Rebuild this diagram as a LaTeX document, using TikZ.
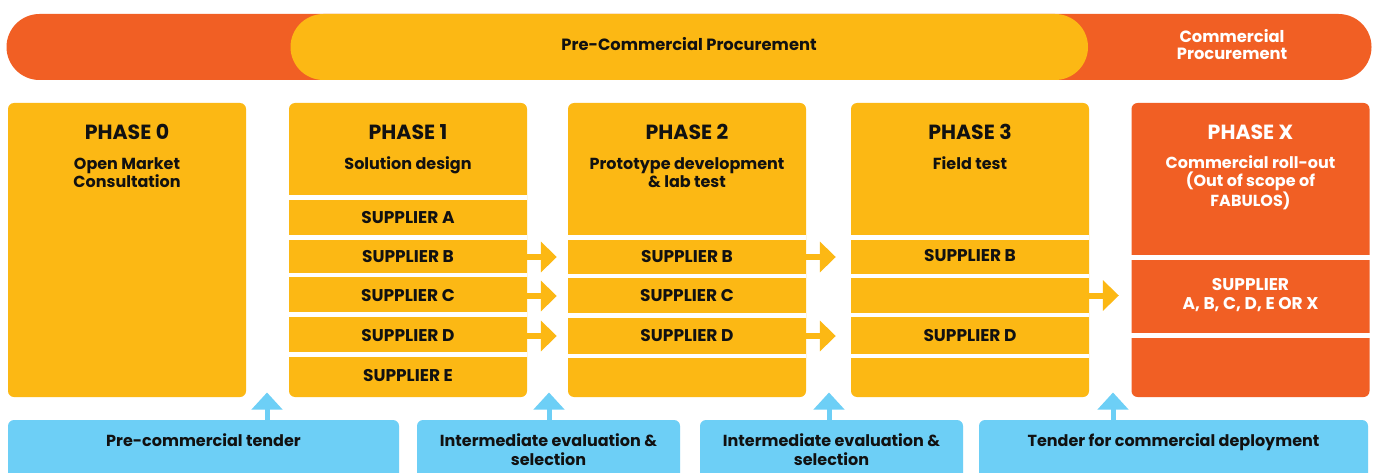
\documentclass[tikz,border=0pt]{standalone}
\usepackage{fontspec}
\setmainfont{Poppins}
\usetikzlibrary{arrows.meta}
\definecolor{corange}{HTML}{F15F24}
\definecolor{cyellow}{HTML}{FCB814}
\definecolor{cblue}{HTML}{6DCFF6}
\definecolor{ctext}{HTML}{111111}
\tikzset{
  pill/.style={rounded corners=33pt, minimum height=66pt, inner sep=0pt},
  phasebox/.style={fill=cyellow, rounded corners=6pt, minimum width=238pt, minimum height=294pt, inner sep=0pt},
  sepline/.style={draw=white, line width=4.5pt},
  rowtext/.style={font=\bfseries\fontsize{17}{18.3}\selectfont, text=ctext, minimum width=238pt, inner sep=0pt, align=center},
  phtitle/.style={font=\bfseries\fontsize{20.5}{22}\selectfont, text=ctext, anchor=base, inner sep=0pt},
  phsub/.style={font=\bfseries\fontsize{16}{18}\selectfont, text=ctext, align=center, anchor=base, inner sep=0pt},
  toptext/.style={font=\bfseries\fontsize{16.3}{17.7}\selectfont, text=ctext, align=center, anchor=base, inner sep=0pt},
  bluebox/.style={fill=cblue, rounded corners=6pt, minimum height=80pt, inner sep=0pt},
  bluetext/.style={font=\bfseries\fontsize{16}{18.3}\selectfont, text=ctext, align=center, anchor=base, inner sep=0pt},
  yarrow/.style={draw=cyellow, line width=6pt, -{Triangle[width=30pt,length=16pt]}},
  barrow/.style={draw=cblue, line width=5pt, -{Triangle[width=30pt,length=17pt]}}
}
\begin{document}
\begin{tikzpicture}[x=1pt,y=-1pt]
\clip (0,0) rectangle (1375,473);
\fill[white] (0,0) rectangle (1375,473);
% top bar
\node[pill, fill=corange, minimum width=1365pt] (cpbar) at (689,47) {};
\node[pill, fill=cyellow, minimum width=797.5pt] (pcpbar) at (689.25,47) {};
\node[toptext] (pcptext) at (689,50.5) {Pre-Commercial Procurement};
\node[toptext, text=white] (cptext) at (1232,60) {Commercial\\Procurement};

% phase boxes
\node[phasebox] (p0) at (127,250) {};
\node[phasebox] (p1) at (408,250) {};
\node[phasebox] (p2) at (687,250) {};
\node[phasebox] (p3) at (970,250) {};
\node[phasebox, fill=corange] (px) at (1250.5,250) {};

% separators
\foreach \y in {197.5,237.5,275,314.5,354.5} \draw[sepline] (p1.west |- 0,\y) -- (p1.east |- 0,\y);
\foreach \y in {237.5,276,315.5,356} \draw[sepline] (p2.west |- 0,\y) -- (p2.east |- 0,\y);
\foreach \y in {237.5,276,315,356} \draw[sepline] (p3.west |- 0,\y) -- (p3.east |- 0,\y);
\foreach \y in {257.5,335.5} \draw[sepline] (px.west |- 0,\y) -- (px.east |- 0,\y);

% headers
\node[phtitle] (p0t) at (127,140) {PHASE 0};
\node[phsub] (p0s) at (127,188) {Open Market\\Consultation};
\node[phtitle] (p1t) at (408,140) {PHASE 1};
\node[phsub] (p1s) at (408,170) {Solution design};
\node[phtitle] (p2t) at (687,140) {PHASE 2};
\node[phsub] (p2s) at (687,188) {Prototype development\\\& lab test};
\node[phtitle] (p3t) at (970,140) {PHASE 3};
\node[phsub] (p3s) at (970,170) {Field test};
\node[phtitle, text=white] (pxt) at (1250.5,140) {PHASE X};
\node[phsub, text=white] (pxs) at (1250.5,206) {Commercial roll-out\\(Out of scope of\\FABULOS)};

% rows
\node[rowtext] (p1a) at (408,217.5) {SUPPLIER A};
\node[rowtext] (p1b) at (408,257) {SUPPLIER B};
\node[rowtext] (p1c) at (408,296) {SUPPLIER C};
\node[rowtext] (p1d) at (408,336) {SUPPLIER D};
\node[rowtext] (p1e) at (408,375.5) {SUPPLIER E};
\node[rowtext] (p2b) at (687,257) {SUPPLIER B};
\node[rowtext] (p2c) at (687,296) {SUPPLIER C};
\node[rowtext] (p2d) at (687,336) {SUPPLIER D};
\node[rowtext] (p3b) at (970,256) {SUPPLIER B};
\node[rowtext] (p3c) at (970,295.5) {};
\node[rowtext] (p3d) at (970,336) {SUPPLIER D};
\node[rowtext, text=white] (pxr) at (1250.5,295) {SUPPLIER\\A, B, C, D, E OR X};

% yellow arrows
\draw[yarrow, shorten >=11pt] (p1b.east) -- (p2b.west);
\draw[yarrow, shorten >=11pt] (p1c.east) -- (p2c.west);
\draw[yarrow, shorten >=11pt] (p1d.east) -- (p2d.west);
\draw[yarrow, shorten >=15pt] (p2b.east) -- (p3b.west |- p2b);
\draw[yarrow, shorten >=15pt] (p2d.east) -- (p3d.west);
\draw[yarrow, shorten >=12.5pt] (p3c.east) -- (px.west |- p3c);

% bottom boxes
\node[bluebox, minimum width=391pt] (b1) at (203.5,460) {};
\node[bluebox, minimum width=263pt] (b2) at (548.5,460) {};
\node[bluebox, minimum width=263pt] (b3) at (831.5,460) {};
\node[bluebox, minimum width=389pt] (b4) at (1173.5,460) {};
\node[bluetext] (b1t) at (203.5,446.5) {Pre-commercial tender};
\node[bluetext] (b2t) at (548.5,465) {Intermediate evaluation \&\\selection};
\node[bluetext] (b3t) at (831.5,465) {Intermediate evaluation \&\\selection};
\node[bluetext] (b4t) at (1173.5,446.5) {Tender for commercial deployment};

% blue arrows
\coordinate (t1) at (267,392.5);
\coordinate (t2) at (549,392.5);
\coordinate (t3) at (829,392.5);
\coordinate (t4) at (1113,392.5);
\draw[barrow] (t1 |- b1.north) -- (t1);
\draw[barrow] (t2 |- b2.north) -- (t2);
\draw[barrow] (t3 |- b3.north) -- (t3);
\draw[barrow] (t4 |- b4.north) -- (t4);
\end{tikzpicture}
\end{document}
